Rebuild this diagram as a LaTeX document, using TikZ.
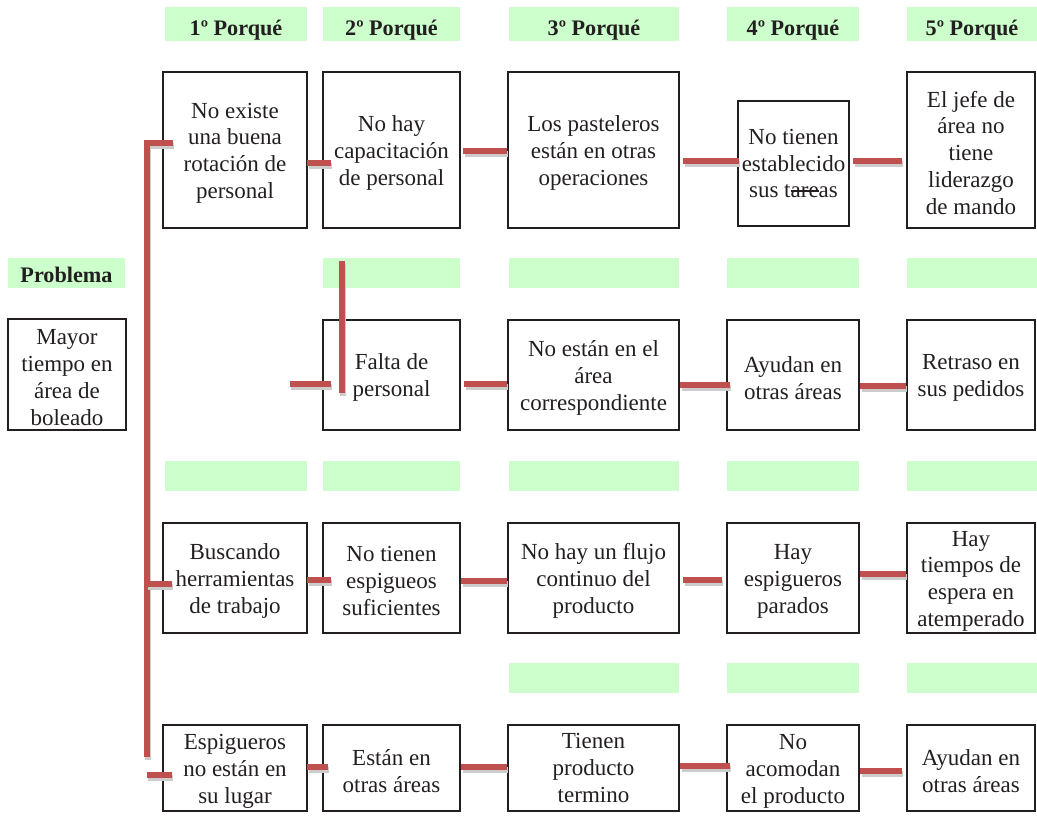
\documentclass[tikz,border=0pt]{standalone}
\usepackage{fontspec}
\setmainfont{Liberation Serif}
\definecolor{hdrgreen}{HTML}{CCFFCC}
\definecolor{connred}{HTML}{C0504D}
\definecolor{inkgray}{HTML}{231F20}
\newcommand\strk[1]{\setbox0\hbox{#1}\rlap{\rule[0.27em]{\wd0}{0.055em}}\box0}
\newcommand\tp{\rule{0pt}{21.5pt}}
\begin{document}
\begin{tikzpicture}[x=1pt,y=-1pt,
  box/.style={draw=inkgray, line width=2.6pt, align=center, inner sep=0pt,
    font=\fontsize{23}{26.8}\selectfont, text=inkgray},
  bar/.style={fill=hdrgreen, inner sep=0pt, text=inkgray,
    font=\bfseries\fontsize{22.2}{24}\selectfont, text depth=0pt},
  conn/.style={draw=connred, line width=6pt,
    preaction={draw=black!20, line width=6pt, transform canvas={shift={(1.2pt,-2.6pt)}}}},
]
\useasboundingbox (0,0) rectangle (1037,815);

% header bars
\node[bar, text height=22pt, minimum width=142pt, minimum height=34pt] (h1) at (236,24) {1º Porqué};
\node[bar, text height=22pt, minimum width=137pt, minimum height=34pt] (h2) at (391.5,24) {2º Porqué};
\node[bar, text height=22pt, minimum width=170pt, minimum height=34pt] (h3) at (594,24) {3º Porqué};
\node[bar, text height=22pt, minimum width=132pt, minimum height=34pt] (h4) at (793,24) {4º Porqué};
\node[bar, text height=22pt, minimum width=130pt, minimum height=34pt] (h5) at (972,24) {5º Porqué};

% row-2 bars
\node[bar, text height=18pt, minimum width=117pt, minimum height=30pt] (hp) at (66.5,273) {Problema};
\node[bar, minimum width=137pt, minimum height=30pt] (g22) at (391.5,273) {};
\node[bar, minimum width=170pt, minimum height=30pt] (g23) at (594,273) {};
\node[bar, minimum width=132pt, minimum height=30pt] (g24) at (793,273) {};
\node[bar, minimum width=130pt, minimum height=30pt] (g25) at (972,273) {};

% row-3 bars
\node[bar, minimum width=142pt, minimum height=30pt] (g31) at (236,476) {};
\node[bar, minimum width=137pt, minimum height=30pt] (g32) at (391.5,476) {};
\node[bar, minimum width=170pt, minimum height=30pt] (g33) at (594,476) {};
\node[bar, minimum width=132pt, minimum height=30pt] (g34) at (793,476) {};
\node[bar, minimum width=130pt, minimum height=30pt] (g35) at (972,476) {};

% row-4 bars
\node[bar, minimum width=170pt, minimum height=30pt] (g43) at (594,678) {};
\node[bar, minimum width=132pt, minimum height=30pt] (g44) at (793,678) {};
\node[bar, minimum width=130pt, minimum height=30pt] (g45) at (972,678) {};

% row 1
\node[box, minimum width=144pt, minimum height=156pt] (A1) at (235,150) {\tp No existe\\una buena\\rotación de\\personal};
\node[box, minimum width=137pt, minimum height=156pt] (A2) at (391.5,150) {\tp No hay\\capacitación\\de personal};
\node[box, minimum width=171pt, minimum height=156pt] (A3) at (593.5,150) {\tp Los pasteleros\\están en otras\\operaciones};
\node[box, minimum width=111pt, minimum height=125pt] (A4) at (793.5,163.5) {No tienen\\establecido\\sus t\strk{are}as};
\node[box, minimum width=128pt, minimum height=156pt] (A5) at (971,150) {\tp El jefe de\\área no\\tiene\\liderazgo\\de mando};

% row 2
\node[box, minimum width=118pt, minimum height=111pt] (P) at (67,374.5) {\tp Mayor\\tiempo en\\área de\\boleado};
\node[box, minimum width=137pt, minimum height=110pt] (B2) at (391.5,375) {\tp Falta de\\personal};
\node[box, minimum width=171pt, minimum height=110pt] (B3) at (593.5,375) {\tp No están en el\\área\\correspondiente};
\node[box, minimum width=132pt, minimum height=110pt] (B4) at (793,375) {\tp Ayudan en\\otras áreas};
\node[box, minimum width=128pt, minimum height=110pt] (B5) at (971,375) {\tp Retraso en\\sus pedidos};

% row 3
\node[box, minimum width=144pt, minimum height=110pt] (C1) at (235,578) {\tp Buscando\\herramientas\\de trabajo};
\node[box, minimum width=137pt, minimum height=110pt] (C2) at (391.5,578) {\tp No tienen\\espigueos\\suficientes};
\node[box, minimum width=171pt, minimum height=110pt] (C3) at (593.5,578) {\tp No hay un flujo\\continuo del\\producto};
\node[box, minimum width=132pt, minimum height=110pt] (C4) at (793,578) {\tp Hay\\espigueros\\parados};
\node[box, minimum width=128pt, minimum height=110pt] (C5) at (971,578) {\tp Hay\\tiempos de\\espera en\\atemperado};

% row 4
\node[box, minimum width=144pt, minimum height=86pt] (D1) at (235,768) {\tp Espigueros\\no están en\\su lugar};
\node[box, minimum width=137pt, minimum height=86pt] (D2) at (391.5,768) {\tp Están en\\otras áreas};
\node[box, minimum width=171pt, minimum height=86pt] (D3) at (593.5,768) {Tienen\\producto\\termino};
\node[box, minimum width=132pt, minimum height=86pt] (D4) at (793,768) {\tp No\\acomodan\\el producto};
\node[box, minimum width=128pt, minimum height=86pt] (D5) at (971,768) {\tp Ayudan en\\otras áreas};

% free ends
\coordinate (spinetop) at (147,143);
\coordinate (spinebot) at (147,757);
\coordinate (spine3) at (147,584);
\coordinate (spine4) at (147,775);
\coordinate (vtop) at (342,261);
\coordinate (vbot) at (342,393);
\coordinate (stubL) at (290,384);

% connectors
\draw[conn] ([xshift=11pt]A1.west |- spinetop) -- (spinetop) -- (spinebot);
\draw[conn] (spine3) -- ([xshift=10pt]C1.west |- spine3);
\draw[conn] (spine4) -- ([xshift=10pt]D1.west |- spine4);

\draw[conn] ([xshift=-1pt]A1.east |- 0,163) -- ([xshift=9pt]A2.west |- 0,163);
\draw[conn] ([xshift=2pt]A2.east |- 0,151) -- (A3.west |- 0,151);
\draw[conn] ([xshift=3pt]A3.east |- 0,161) -- ([xshift=2pt]A4.west |- 0,161);
\draw[conn] ([xshift=3pt]A4.east |- 0,161) -- ([xshift=-4pt]A5.west |- 0,161);

\draw[conn] (vtop) -- (vbot);
\draw[conn] (stubL) -- ([xshift=9pt]B2.west |- stubL);
\draw[conn] ([xshift=3pt]B2.east |- 0,384) -- (B3.west |- 0,384);
\draw[conn] (B3.east |- 0,385) -- ([xshift=4pt]B4.west |- 0,385);
\draw[conn] (B4.east |- 0,386) -- (B5.west |- 0,386);

\draw[conn] ([xshift=-1pt]C1.east |- 0,580) -- ([xshift=9pt]C2.west |- 0,580);
\draw[conn] (C2.east |- 0,581) -- (C3.west |- 0,581);
\draw[conn] ([xshift=3pt]C3.east |- 0,580) -- ([xshift=-4pt]C4.west |- 0,580);
\draw[conn] (C4.east |- 0,574) -- (C5.west |- 0,574);

\draw[conn] ([xshift=-1pt]D1.east |- 0,767) -- ([xshift=6pt]D2.west |- 0,767);
\draw[conn] (D2.east |- 0,767) -- (D3.west |- 0,767);
\draw[conn] (D3.east |- 0,766) -- ([xshift=4pt]D4.west |- 0,766);
\draw[conn] (D4.east |- 0,771) -- ([xshift=-4pt]D5.west |- 0,771);
\end{tikzpicture}
\end{document}
